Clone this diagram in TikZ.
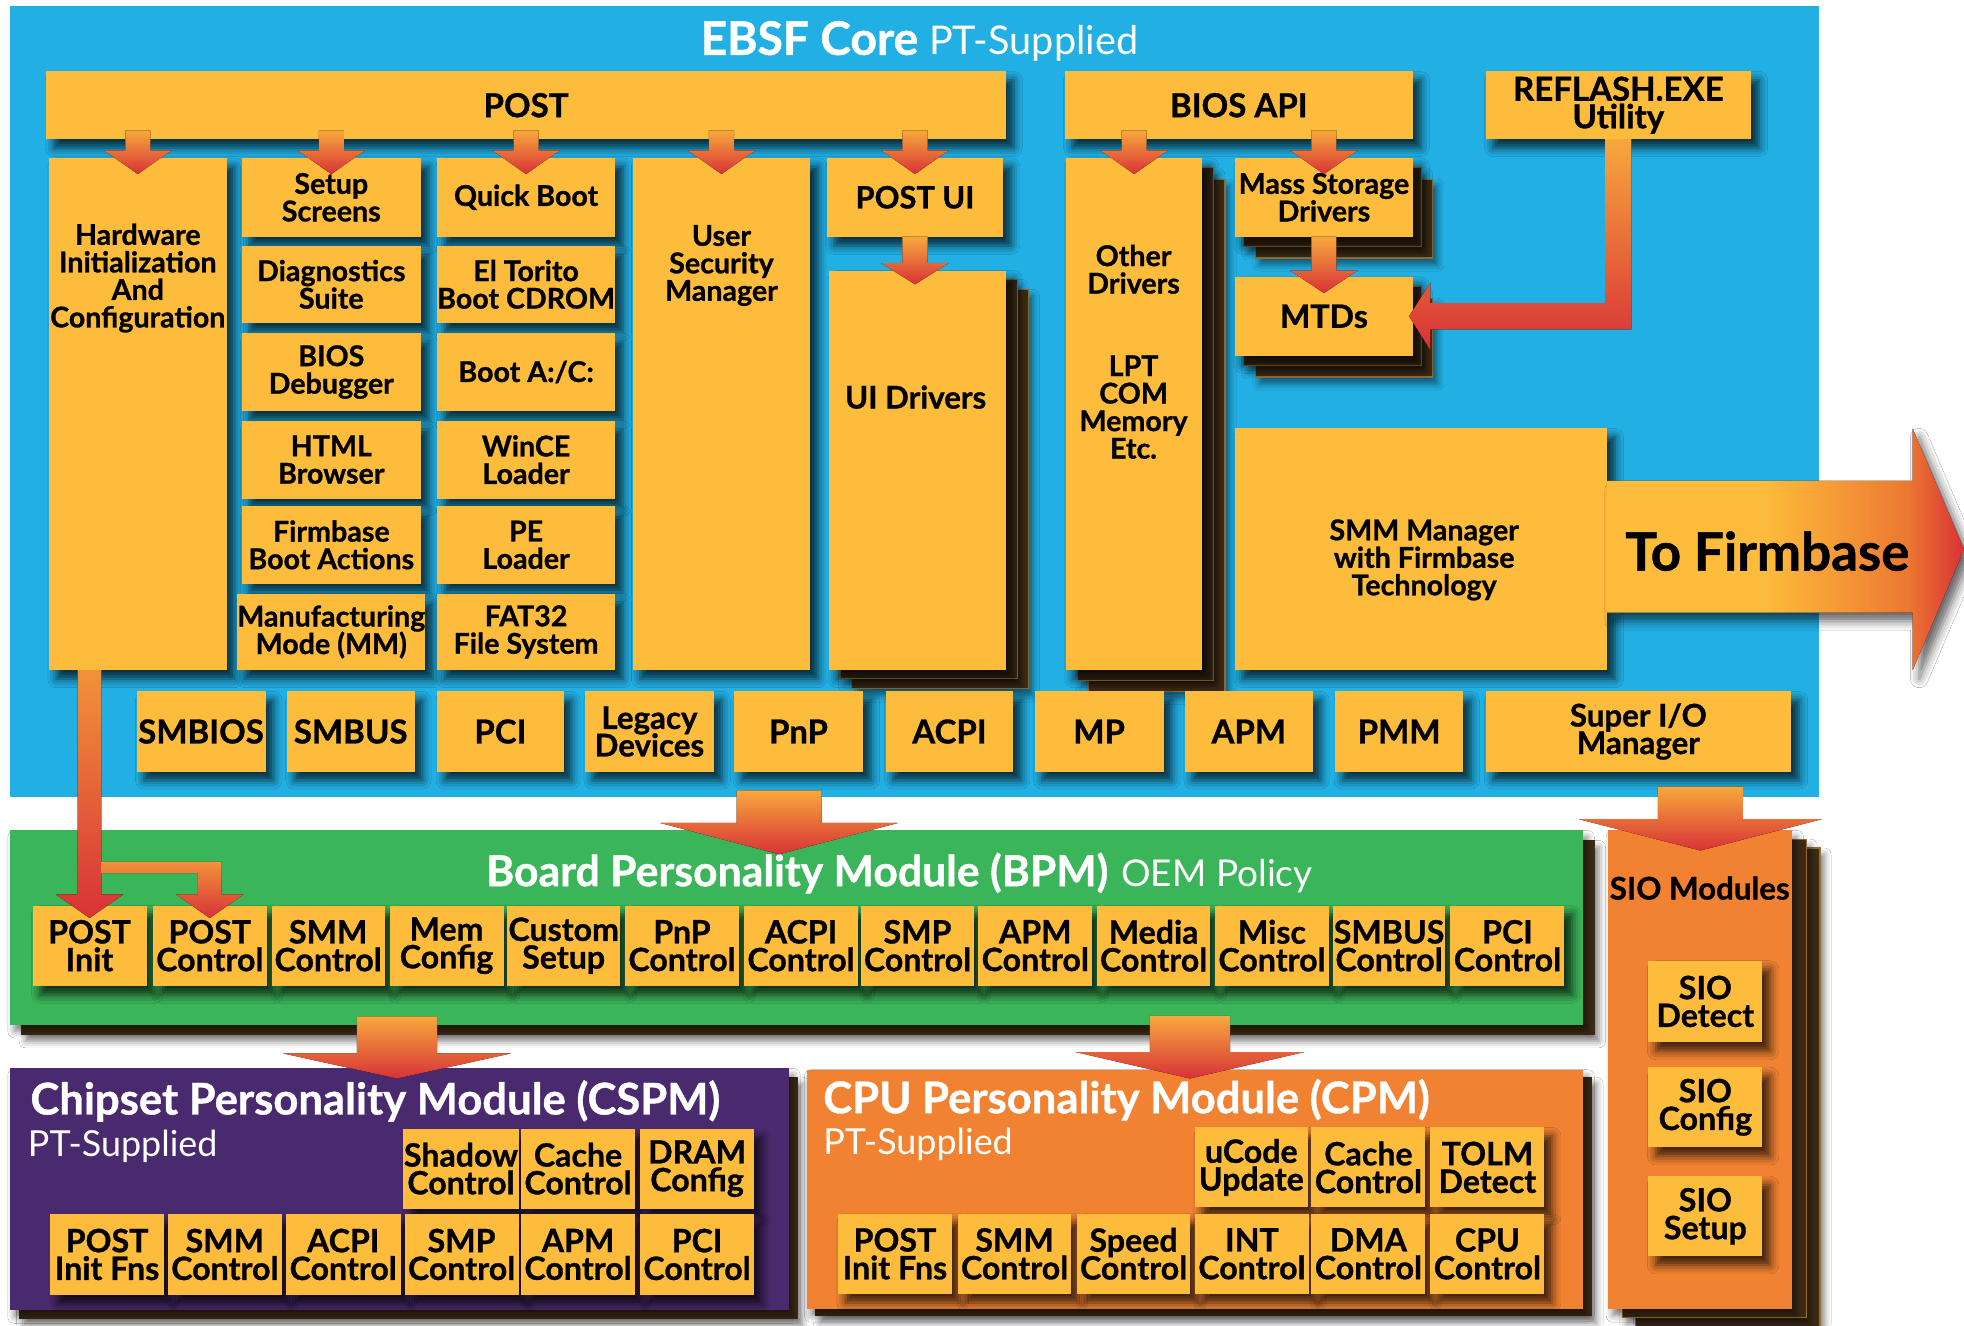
\documentclass[tikz,border=0pt]{standalone}
\usepackage{fontspec}
\setmainfont{Lato}
\newfontfamily\cf{Lato}[BoldFeatures={FakeBold=0.9}]
\newfontfamily\wf{Lato}[BoldFeatures={FakeBold=0.9}]
\usetikzlibrary{calc,shadows.blur}
\newcommand\tls{\lineskiplimit=-20pt\relax}
\definecolor{bgblue}{RGB}{34,175,228}
\definecolor{boxy}{RGB}{253,188,59}
\definecolor{bpmg}{RGB}{58,181,90}
\definecolor{cspp}{RGB}{74,42,110}
\definecolor{cpmo}{RGB}{240,130,50}
\definecolor{artop}{RGB}{247,168,60}
\definecolor{arorg}{RGB}{236,120,50}
\definecolor{arred}{RGB}{216,50,55}
\definecolor{linetop}{RGB}{242,146,58}
\definecolor{sheetb}{RGB}{62,44,22}
\definecolor{sheete}{RGB}{150,110,50}
\pgfdeclarehorizontalshading{tofirm}{100bp}{color(0bp)=(boxy); color(47bp)=(boxy); color(67bp)=(arorg); color(75bp)=(arred); color(100bp)=(arred)}
\tikzset{
  ybox/.style={fill=boxy, inner sep=0pt, outer sep=0pt, align=center,
    font=\cf\bfseries\fontsize{13}{12.5}\selectfont\tls,
    blur shadow={shadow xshift=3.5pt, shadow yshift=-4pt, shadow blur radius=4pt, shadow opacity=75}},
  wide/.style={font=\wf\bfseries\fontsize{15}{13}\selectfont\tls},
  big/.style={font=\cf\bfseries\fontsize{14.6}{12.6}\selectfont\tls},
  mid/.style={font=\cf\bfseries\fontsize{14.2}{12.5}\selectfont\tls},
  panel/.style={inner sep=0pt, outer sep=0pt,
    blur shadow={shadow xshift=2pt, shadow yshift=-3pt, shadow blur radius=3pt, shadow opacity=50}},
  sheet/.style={fill=sheetb, draw=sheete, line width=0.5pt,
    blur shadow={shadow xshift=2pt, shadow yshift=-3pt, shadow blur radius=3pt, shadow opacity=50}},
  arrsh/.style={top color=artop, bottom color=arred},
  plain/.style={inner sep=0pt, align=center, font=\cf\bfseries\fontsize{13}{12.5}\selectfont\tls},
  ttl/.style={text=white, inner sep=0pt, anchor=west},
}
\newcommand\bx[7][]{\node[#1,minimum width={(#5-#3)*0.02cm},minimum height={(#6-#4)*0.02cm}] (#2) at ({(#3+#5)/2},{(#4+#6)/2}) {#7};}
\newcommand\sheetat[7][sheet]{\draw[#1] (#2+#6,#3+#7) rectangle (#4+#6,#5+#7);}
\newcommand\darrow[5]{\fill[arrsh] ($#1+(-#3,0)$) -- ($#2+(-#3,-#5)$) -- ($#2+(-#4,-#5)$) -- #2 -- ($#2+(#4,-#5)$) -- ($#2+(#3,-#5)$) -- ($#1+(#3,0)$) -- cycle;}
\begin{document}
\begin{tikzpicture}[x=0.02cm,y=-0.02cm]
\useasboundingbox (0,0) rectangle (1568,1058);
\fill[white] (0,0) rectangle (1568,1058);
\fill[bgblue] (8,5) rectangle (1452,636);
% title of EBSF core
\node[text=white, inner sep=0pt] (ebsft) at (734,33) {{\wf\bfseries\fontsize{21}{24}\selectfont EBSF Core}\hspace{0.5em}{\cf\fontsize{18}{24}\selectfont PT-Supplied}};
% stacked sheets behind boxes and panels
\sheetat{662}{216}{803}{535}{18}{15}
\sheetat{662}{216}{803}{535}{9}{7}
\sheetat{851}{126}{960}{535}{18}{17}
\sheetat{851}{126}{960}{535}{9}{8}
\sheetat{986}{126}{1128}{189}{16}{17}
\sheetat{986}{126}{1128}{189}{7}{8}
\sheetat{986}{221}{1128}{284}{16}{17}
\sheetat{986}{221}{1128}{284}{7}{8}
\sheetat{1284}{663}{1431}{1045}{22}{14}
\sheetat{1284}{663}{1431}{1045}{11}{7}
\sheetat[sheet,draw=none]{8}{663}{1264}{818}{9}{8}
\sheetat[sheet,draw=none]{8}{853}{630}{1046}{7}{7}
\sheetat[sheet,draw=none]{644}{854}{1264}{1045}{7}{6}
% panels
\bx[panel,fill=bpmg]{bpm}{8}{663}{1264}{818}{}
\bx[panel,fill=cspp]{cspm}{8}{853}{630}{1046}{}
\bx[panel,fill=cpmo]{cpm}{644}{854}{1264}{1045}{}
\bx[panel,fill=cpmo]{sio}{1284}{663}{1431}{1045}{}
% top bars
\bx[ybox,wide]{post}{37}{57}{803}{111}{POST}
\bx[ybox,wide]{biosapi}{850}{57}{1128}{111}{BIOS API}
\bx[ybox,wide,font=\wf\bfseries\fontsize{15}{12.5}\selectfont\tls]{reflash}{1186}{57}{1398}{111}{REFLASH.EXE\\Utility}
% columns
\bx[ybox]{hw}{39}{126}{181}{535}{}
\node[plain] (hwt) at (110,222) {Hardware\\Initialization\\And\\Configuration};
\bx[ybox]{ss}{193}{126}{336}{189}{Setup\\Screens}
\bx[ybox]{ds}{193}{196}{336}{258}{Diagnostics\\Suite}
\bx[ybox]{bd}{193}{266}{336}{328}{BIOS\\Debugger}
\bx[ybox]{hb}{193}{336}{336}{398}{HTML\\Browser}
\bx[ybox]{fb}{193}{404}{336}{466}{Firmbase\\Boot Actions}
\bx[ybox]{mm}{193}{474}{336}{535}{Manufacturing\\Mode (MM)}
\bx[ybox]{qb}{349}{126}{491}{189}{Quick Boot}
\bx[ybox]{et}{349}{196}{491}{258}{El Torito\\Boot CDROM}
\bx[ybox]{ba}{349}{266}{491}{328}{Boot A:/C:}
\bx[ybox]{wl}{349}{336}{491}{398}{WinCE\\Loader}
\bx[ybox]{pe}{349}{404}{491}{466}{PE\\Loader}
\bx[ybox]{fat}{349}{474}{491}{535}{FAT32\\File System}
\bx[ybox]{usm}{505}{126}{647}{535}{}
\node[plain] (usmt) at (576,212) {User\\Security\\Manager};
\bx[ybox,font=\wf\bfseries\fontsize{14}{13}\selectfont]{pui}{660}{126}{801}{189}{POST UI}
\bx[ybox]{uid}{662}{216}{803}{535}{}
\node[plain,mid] (uidt) at (731,317) {UI Drivers};
\bx[ybox]{od}{851}{126}{960}{535}{}
\node[plain] (odt1) at (905,215) {Other\\Drivers};
\node[plain] (odt2) at (905,325) {LPT\\COM\\Memory\\Etc.};
\bx[ybox]{ms}{986}{126}{1128}{189}{Mass Storage\\Drivers}
\bx[ybox,big]{mtds}{986}{221}{1128}{284}{MTDs}
\bx[ybox]{smm}{986}{342}{1283}{535}{}
\node[plain] (smmt) at (1137,447) {SMM Manager\\with Firmbase\\Technology};
% To Firmbase arrow
\fill[shading=tofirm, blur shadow={shadow xshift=3pt, shadow yshift=-4pt, shadow blur radius=4pt, shadow opacity=60}]
  ($(smm.east)+(0,-54.5)$) -- ++(244,0) -- ++(0,-42) -- ($(smm.east)+(285,0)$) -- ($(smm.east)+(244,96.5)$) -- ++(0,-46) -- ($(smm.east)+(0,50.5)$) -- cycle;
\node[inner sep=0pt, font=\wf\bfseries\fontsize{24}{28}\selectfont] (firm) at (1411,440) {To Firmbase};
% bottom row of EBSF core
\bx[ybox,wide]{smbios}{109}{552}{212}{616}{SMBIOS}
\bx[ybox,wide]{smbus}{229}{552}{331}{616}{SMBUS}
\bx[ybox,wide]{pci}{349}{552}{450}{616}{PCI}
\bx[ybox,mid]{legacy}{467}{552}{570}{616}{Legacy\\Devices}
\bx[ybox,wide]{pnp}{586}{552}{689}{616}{PnP}
\bx[ybox,wide]{acpi}{707}{552}{809}{616}{ACPI}
\bx[ybox,wide]{mp}{826}{552}{929}{616}{MP}
\bx[ybox,wide]{apm}{946}{552}{1048}{616}{APM}
\bx[ybox,wide]{pmm}{1066}{552}{1168}{616}{PMM}
\bx[ybox,mid]{superio}{1186}{552}{1430}{616}{Super I/O\\Manager}
% BPM
\node[text=white, inner sep=0pt] (bpmt) at (718,697) {{\cf\bfseries\fontsize{19.4}{26}\selectfont Board Personality Module (BPM)}\hspace{0.6em}{\cf\fontsize{16.8}{26}\selectfont OEM Policy}};
\bx[ybox,big]{pinit}{26}{723}{117}{787}{POST\\Init}
\bx[ybox,big]{pctl}{122}{723}{213}{787}{POST\\Control}
\bx[ybox,big]{smmc}{217}{723}{307}{787}{SMM\\Control}
\bx[ybox,big]{memc}{311}{723}{402}{787}{Mem\\Config}
\bx[ybox,big]{cust}{405}{723}{495}{787}{Custom\\Setup}
\bx[ybox,big]{pnpc}{499}{723}{590}{787}{PnP\\Control}
\bx[ybox,big]{acpic}{594}{723}{685}{787}{ACPI\\Control}
\bx[ybox,big]{smpc}{687}{723}{778}{787}{SMP\\Control}
\bx[ybox,big]{apmc}{781}{723}{872}{787}{APM\\Control}
\bx[ybox,big]{medc}{876}{723}{966}{787}{Media\\Control}
\bx[ybox,big]{miscc}{970}{723}{1061}{787}{Misc\\Control}
\bx[ybox,big]{smbc}{1064}{723}{1154}{787}{SMBUS\\Control}
\bx[ybox,big]{pcic}{1158}{723}{1249}{787}{PCI\\Control}
% SIO
\node[plain,mid] (siot) at (1357,709) {SIO Modules};
\bx[ybox,big]{sdet}{1316}{767}{1407}{832}{SIO\\Detect}
\bx[ybox,big]{scfg}{1316}{852}{1407}{916}{SIO\\Config}
\bx[ybox,big]{sset}{1316}{939}{1407}{1003}{SIO\\Setup}
% CSPM
\node[ttl, font=\cf\bfseries\fontsize{19.8}{26}\selectfont] (cspmt) at (24,879) {Chipset Personality Module (CSPM)};
\node[ttl, font=\cf\fontsize{16.3}{22}\selectfont] (cspms) at (22,915) {PT-Supplied};
\bx[ybox,big]{shc}{322}{901}{414}{965}{Shadow\\Control}
\bx[ybox,big]{cac}{416}{901}{507}{965}{Cache\\Control}
\bx[ybox,big]{drc}{511}{901}{602}{965}{DRAM\\Config}
\bx[ybox,big]{cpif}{40}{969}{131}{1034}{POST\\Init Fns}
\bx[ybox,big]{csmm}{134}{969}{225}{1034}{SMM\\Control}
\bx[ybox,big]{cacpi}{228}{969}{320}{1034}{ACPI\\Control}
\bx[ybox,big]{csmp}{323}{969}{414}{1034}{SMP\\Control}
\bx[ybox,big]{capm}{416}{969}{507}{1034}{APM\\Control}
\bx[ybox,big]{cpci}{511}{969}{602}{1034}{PCI\\Control}
% CPM
\node[ttl, font=\cf\bfseries\fontsize{19.8}{26}\selectfont] (cpmt) at (657,878) {CPU Personality Module (CPM)};
\node[ttl, font=\cf\fontsize{16.3}{22}\selectfont] (cpms) at (657,914) {PT-Supplied};
\bx[ybox,big]{ucu}{954}{900}{1044}{964}{uCode\\Update}
\bx[ybox,big]{pcac}{1047}{900}{1138}{964}{Cache\\Control}
\bx[ybox,big]{tolm}{1142}{900}{1233}{964}{TOLM\\Detect}
\bx[ybox,big]{ppif}{669}{969}{760}{1033}{POST\\Init Fns}
\bx[ybox,big]{psmm}{765}{969}{855}{1033}{SMM\\Control}
\bx[ybox,big]{pspd}{860}{969}{950}{1033}{Speed\\Control}
\bx[ybox,big]{pint}{954}{969}{1045}{1033}{INT\\Control}
\bx[ybox,big]{pdma}{1047}{969}{1138}{1033}{DMA\\Control}
\bx[ybox,big]{pcpu}{1142}{969}{1233}{1033}{CPU\\Control}
% small arrows from POST
\foreach \n [count=\i] in {hw,ss,qb,usm,pui}{
  \path (\n.north |- post.south) ++(0,-7) coordinate (pa\i);
  \path (\n.north) ++(0,13) coordinate (pb\i);
  \darrow{(pa\i)}{(pb\i)}{10}{27}{19}
}
\foreach \n [count=\i] in {od,ms}{
  \path (\n.north |- biosapi.south) ++(0,-7) coordinate (ba\i);
  \path (\n.north) ++(0,13) coordinate (bb\i);
  \darrow{(ba\i)}{(bb\i)}{10}{27}{19}
}
\path (pui.south) coordinate (ua);
\path (pui.south |- uid.north) ++(0,11) coordinate (ub);
\darrow{(ua)}{(ub)}{10}{27}{17}
\path (ms.south) coordinate (ma);
\path (mtds.north) ++(0,13) coordinate (mb);
\darrow{(ma)}{(mb)}{10}{27}{18}
% REFLASH arrow
\path (reflash.south) coordinate (ra);
\path (mtds.east) ++(-3,0) coordinate (rt);
\path (ra |- rt) coordinate (rc);
\fill[arrsh] ($(ra)+(-10.5,0)$) -- ($(rc)+(-10.5,-10.5)$) -- ($(rt)+(17,-10.5)$) -- ($(rt)+(17,-27)$) -- (rt) -- ($(rt)+(17,27)$) -- ($(rt)+(17,10.5)$) -- ($(rc)+(10.5,10.5)$) -- ($(ra)+(10.5,0)$) -- cycle;
% HW -> POST Init and POST Control
\path (pinit.north |- hw.south) coordinate (ha);
\path (pinit.north) ++(0,10) coordinate (hb);
\fill[top color=linetop, bottom color=arred] ($(ha)+(-9.5,0)$) -- ($(hb)+(-9.5,-19)$) -- ($(hb)+(-27,-19)$) -- (hb) -- ($(hb)+(27,-19)$) -- ($(hb)+(9.5,-19)$) -- ($(ha)+(9.5,0)$) -- cycle;
\path (pctl.north) ++(0,10) coordinate (bt);
\path (pinit.north) ++(9.5,-35) coordinate (bj);
\path (bt |- bj) coordinate (bc);
\fill[top color=linetop, bottom color=arred] (bj) -- ($(bc)+(9.5,0)$) -- ($(bt)+(9.5,-19)$) -- ($(bt)+(27,-19)$) -- (bt) -- ($(bt)+(-27,-19)$) -- ($(bt)+(-9.5,-19)$) -- ($(bc)+(-9.5,9)$) -- ($(bj)+(0,9)$) -- cycle;
% big arrows between modules
\coordinate (ca) at (622,631);
\path (ca |- bpm.north) ++(0,19) coordinate (cb);
\darrow{(ca)}{(cb)}{34}{95}{25}
\path (sio.north |- superio.south) ++(0,12) coordinate (sa);
\path (sio.north) ++(0,16) coordinate (sb);
\darrow{(sa)}{(sb)}{34}{97}{25}
\path (cspm.north |- bpm.south) ++(-2,-6.5) coordinate (da);
\path (cspm.north) ++(-2,8) coordinate (db);
\darrow{(da)}{(db)}{32}{91}{20}
\path (cpm.north |- bpm.south) ++(-4,-7) coordinate (ea);
\path (cpm.north) ++(-4,7) coordinate (eb);
\darrow{(ea)}{(eb)}{32}{91}{21}
\end{tikzpicture}
\end{document}
